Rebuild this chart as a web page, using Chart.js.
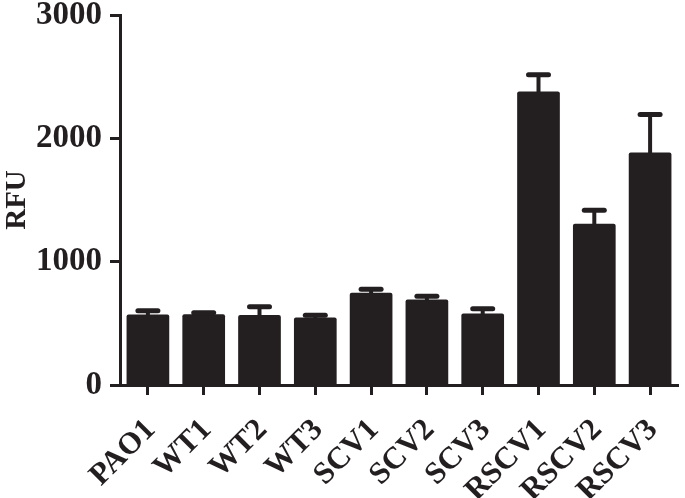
<!DOCTYPE html>
<html>
<head>
<meta charset="utf-8">
<script src="https://cdn.jsdelivr.net/npm/chart.js@4.4.1/dist/chart.umd.min.js"></script>
<style>
  html, body { margin: 0; padding: 0; background: #ffffff; }
  #wrap { width: 685px; height: 498px; position: relative; }
</style>
</head>
<body>
<div id="wrap"><canvas id="c"></canvas></div>
<script>
// ---- data ----
const categories = ["PAO1", "WT1", "WT2", "WT3", "SCV1", "SCV2", "SCV3", "RSCV1", "RSCV2", "RSCV3"];
const meanRFU = [572, 574, 567, 548, 747, 694, 580, 2380, 1307, 1886];
const errorRFU = [31, 12, 67, 17, 30, 26, 38, 136, 110, 308];
const yTicks = [0, 1000, 2000, 3000];
const yTickLabels = ["0", "1000", "2000", "3000"];
const yTitle = "RFU";

const INK = "#231f20";
const SERIF = "'Liberation Serif', 'Times New Roman', serif";

const errorBars = {
  id: "errorBars",
  afterDatasetsDraw(chart) {
    const meta = chart.getDatasetMeta(0);
    const yScale = chart.scales.y;
    const ctx = chart.ctx;
    ctx.save();
    ctx.strokeStyle = INK;
    meta.data.forEach((bar, i) => {
      const x = bar.x;
      const yBar = bar.y;
      const yTop = yScale.getPixelForValue(meanRFU[i] + errorRFU[i]);
      ctx.lineCap = "butt";
      ctx.lineWidth = 4;
      ctx.beginPath();
      ctx.moveTo(x, yBar + 1);
      ctx.lineTo(x, yTop);
      ctx.stroke();
      ctx.lineCap = "round";
      ctx.lineWidth = 5;
      ctx.beginPath();
      ctx.moveTo(x - 10, yTop);
      ctx.lineTo(x + 10, yTop);
      ctx.stroke();
    });
    ctx.restore();
  }
};

new Chart(document.getElementById("c"), {
  type: "bar",
  data: {
    labels: categories,
    datasets: [{
      data: meanRFU,
      backgroundColor: INK,
      borderWidth: 0,
      borderRadius: 2,
      borderSkipped: "bottom",
      barPercentage: 0.765,
      categoryPercentage: 1.0
    }]
  },
  options: {
    responsive: true,
    maintainAspectRatio: false,
    animation: false,
    devicePixelRatio: 1,
    layout: { padding: { left: 0, right: 7, top: 15, bottom: 0 } },
    plugins: {
      legend: { display: false },
      tooltip: { enabled: false },
      title: { display: false }
    },
    scales: {
      x: {
        offset: true,
        grid: {
          offset: false,
          drawOnChartArea: false,
          drawTicks: true,
          tickLength: 10,
          tickWidth: 3,
          color: INK
        },
        border: { display: true, width: 3, color: INK },
        ticks: {
          maxRotation: 45,
          minRotation: 45,
          autoSkip: false,
          padding: 17,
          labelOffset: 3,
          color: INK,
          font: { family: SERIF, size: 31, weight: "bold" }
        },
        afterFit(scale) {
          scale.height = 113;
          scale.paddingLeft = 0;
          scale.paddingRight = 0;
        }
      },
      y: {
        min: 0,
        max: 3000,
        afterBuildTicks(scale) { scale.ticks = yTicks.map(v => ({ value: v })); },
        grid: {
          drawOnChartArea: false,
          drawTicks: true,
          tickLength: 10,
          tickWidth: 3,
          color: INK
        },
        border: { display: true, width: 3, color: INK },
        ticks: {
          padding: 8,
          color: INK,
          font: { family: SERIF, size: 33, weight: "bold" },
          callback(value) {
            const k = yTicks.indexOf(value);
            return k >= 0 ? yTickLabels[k] : "";
          }
        },
        title: {
          display: true,
          text: yTitle,
          color: INK,
          padding: { top: 0, bottom: 0 },
          font: { family: SERIF, size: 29, weight: "bold" }
        },
        afterFit(scale) {
          scale.width = 120;
          scale.paddingTop = 0;
          scale.paddingBottom = 0;
        }
      }
    }
  },
  plugins: [errorBars]
});
</script>
</body>
</html>
